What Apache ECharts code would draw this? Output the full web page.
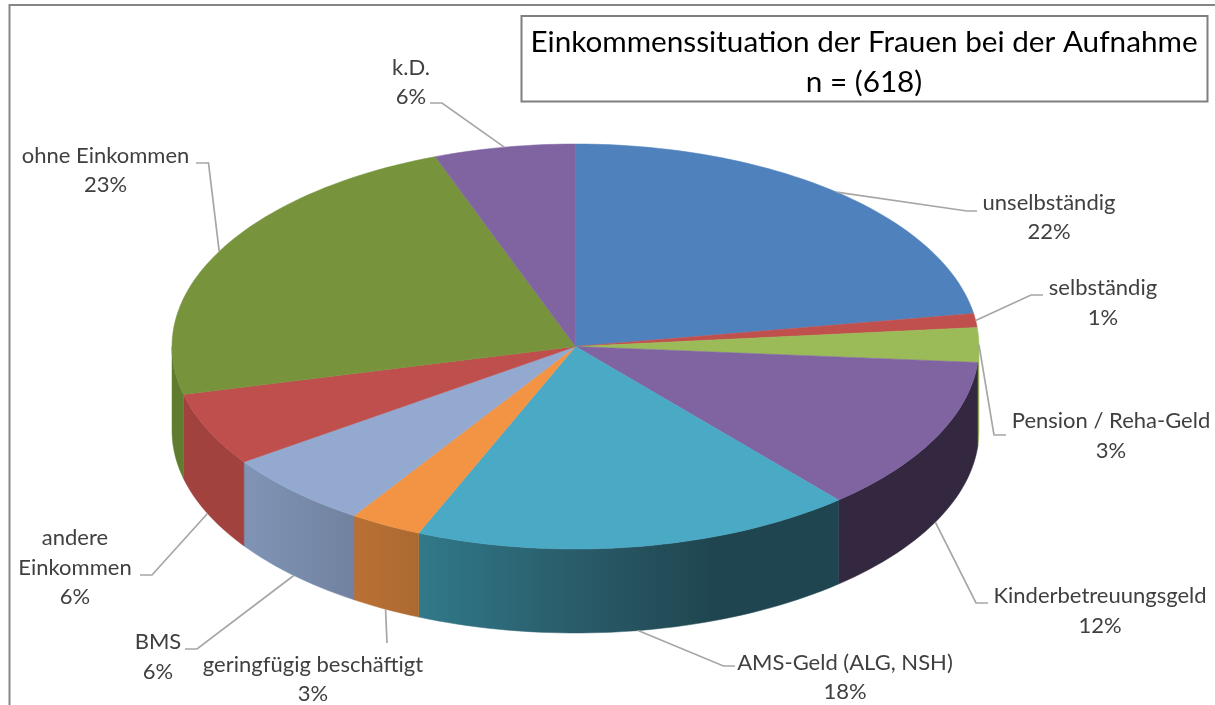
<!DOCTYPE html>
<html><head><meta charset="utf-8">
<style>html,body{margin:0;padding:0;background:#fff;overflow:hidden}#c{width:1215px;height:705px}</style>
<script src="https://cdn.jsdelivr.net/npm/echarts@6/dist/echarts.min.js"></script>
</head><body><div id="c"></div>
<script>
// ---- data ----
const categories = ['unselbständig','selbständig','Pension / Reha-Geld','Kinderbetreuungsgeld','AMS-Geld (ALG, NSH)','geringfügig beschäftigt','BMS','andere\nEinkommen','ohne Einkommen','k.D.'];
const values = [22.4,1.1,2.75,12.45,17.65,2.9,6.1,5.85,23.15,5.65];
const titleText = 'Einkommenssituation der Frauen bei der Aufnahme\nn = (618)';
// ---- styles ----
const topColors = ['#4F81BD','#C0504D','#9BBB59','#8064A2','#4AA9C4','#F29444','#93A9CF','#BE4F4C','#77933C','#8064A2'];
const sideStops = [
  [[0,'#3B6390'],[1,'#3B6390']],
  [[0,'#923D3A'],[1,'#923D3A']],
  [[0,'#9BBB59'],[1,'#9BBB59']],
  [[0,'#33283F'],[1,'#33283F']],
  [[0,'#31798A'],[0.37,'#2A5C69'],[0.7,'#1F4650'],[1,'#1F4650']],
  [[0,'#BA7035'],[1,'#AB6A30']],
  [[0,'#8094B6'],[1,'#71829F']],
  [[0,'#A2423F'],[1,'#A2423F']],
  [[0,'#607D2F'],[1,'#607D2F']],
  [[0,'#5F4B79'],[1,'#5F4B79']]
];
const DEPTH = 84;
// label block centre and leader bend/end points, in page pixels
const labelPos = [[1049,217.5],[1103,303],[1111,436],[1100,611],[845,677.5],[313,679.5],[158,657],[75,567.5],[105.5,170.5],[411,82.5]];
const leaderPts = [
  [[967,211],[977,211]],
  [[1031,295],[1043,295]],
  [[994,435],[1006,435]],
  [[976,603],[988,603]],
  [[723.5,666],[735,666]],
  [[387,643]],
  [[197,649],[185,649]],
  [[152,575],[140,575]],
  [[208.5,163],[196,163]],
  [[442,103],[430,103]]
];
const LABEL_FONT = 'Lato';
const total = values.reduce((a,b)=>a+b,0);
let run = 0;
const sliceData = values.map((v,i)=>{const s=run; run+=v; return [s/total*360,run/total*360,i];});

function rim(api,deg){const r=deg*Math.PI/180; return api.coord([Math.sin(r),Math.cos(r)]);}
function arc(api,a,b,dy){
  const n=Math.max(2,Math.ceil(Math.abs(b-a)/1.5)),out=[];
  for(let k=0;k<=n;k++){const p=rim(api,a+(b-a)*k/n); out.push([p[0],p[1]+dy]);}
  return out;
}
const base = {type:'custom',xAxisIndex:0,yAxisIndex:0,clip:false,silent:true,animation:false,data:sliceData};
const option = {
  animation:false,
  backgroundColor:'#fff',
  title:{text:titleText,left:859,top:17,textAlign:'center',
    textStyle:{fontFamily:LABEL_FONT,fontSize:29.7,fontWeight:'normal',color:'#000',lineHeight:40}},
  graphic:[
    {type:'rect',silent:true,z:0,shape:{x:9.5,y:5,width:1300,height:800},style:{fill:'none',stroke:'#868686',lineWidth:2}},
    {type:'rect',silent:true,z:0,shape:{x:521.5,y:16,width:686,height:85.5},style:{fill:'#fff',stroke:'#7F7F7F',lineWidth:2}}
  ],
  grid:{left:172,top:144,width:807,height:405},
  xAxis:{type:'value',min:-1,max:1,show:false},
  yAxis:{type:'value',min:-1,max:1,show:false},
  series:[
    Object.assign({},base,{z:2,renderItem(p,api){
      const i=api.value(2),a=Math.max(api.value(0),90),b=Math.min(api.value(1),270);
      if(b<=a) return null;
      const pts=arc(api,a,b,0).concat(arc(api,b,a,DEPTH));
      const st=sideStops[i].map(s=>({offset:s[0],color:s[1]}));
      const g={type:'linear',x:0,y:0,x2:1,y2:0,colorStops:st};
      return {type:'polygon',shape:{points:pts},style:{fill:g,stroke:g,lineWidth:0.5}};
    }}),
    Object.assign({},base,{z:3,renderItem(p,api){
      const i=api.value(2),c=api.coord([0,0]);
      return {type:'polygon',shape:{points:[c].concat(arc(api,api.value(0),api.value(1),0))},
        style:{fill:topColors[i],stroke:topColors[i],lineWidth:0.5}};
    }}),
    Object.assign({},base,{z:4,renderItem(p,api){
      const i=api.value(2),mid=(api.value(0)+api.value(1))/2,a=rim(api,mid);
      const front=mid>90&&mid<270;
      const start=[a[0],a[1]+(front?DEPTH:0)];
      const cx=labelPos[i];
      return {type:'group',children:[
        {type:'polyline',shape:{points:[start].concat(leaderPts[i])},style:{fill:'none',stroke:'#A6A6A6',lineWidth:1.7}},
        {type:'text',x:cx[0],y:cx[1],style:{text:categories[i]+'\n'+Math.round(values[i]/total*100)+'%',
          fontFamily:LABEL_FONT,fontSize:22,lineHeight:29.5,fill:'#404040',align:'center',verticalAlign:'middle'}}
      ]};
    }})
  ]
};
const chart=echarts.init(document.getElementById('c'),null,{renderer:'canvas'});
chart.setOption(option);
</script></body></html>
